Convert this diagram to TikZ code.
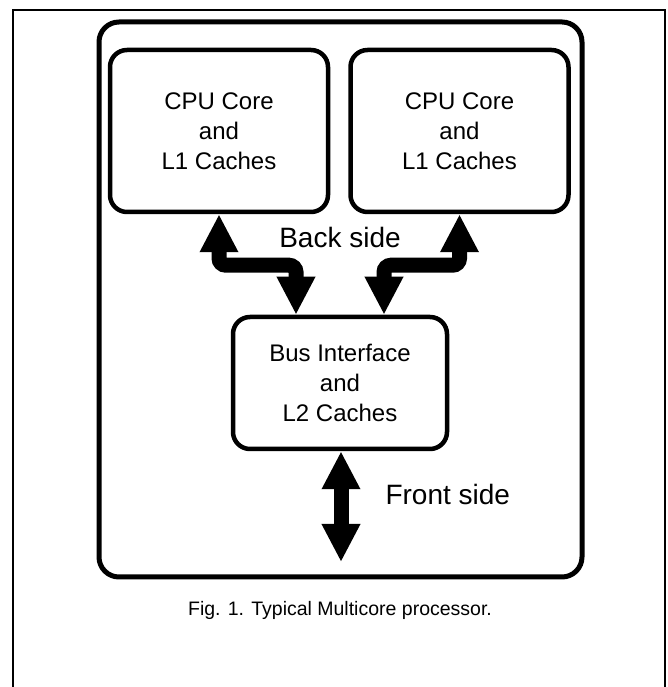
\documentclass[tikz,border=0pt]{standalone}
\usepackage{fontspec}
\setmainfont{Liberation Sans}
\usetikzlibrary{arrows.meta}
\usetikzlibrary{positioning}

\begin{document}
\begin{tikzpicture}[x=1pt, y=1pt, >=Stealth,
    unitbox/.style={draw, line width=4.5pt, rounded corners=17pt, align=center,
        inner sep=0pt, font=\fontsize{24}{30}\selectfont},
    busarrow/.style={line width=15pt, rounded corners=7pt,
        {Triangle[width=36pt,length=38pt]}-{Triangle[width=36pt,length=38pt]}},
    label/.style={font=\fontsize{28}{34}\selectfont}]
        \useasboundingbox (0,0) rectangle (668,687);

        % Draw the page frame
        \draw[line width=1.8pt] (13,0) -- (13,677) -- (665,677) -- (665,0);

        % Draw the processor package
        \node[draw, line width=5pt, rounded corners=20pt, minimum width=483pt,
            minimum height=555pt] (chip) at (340.5,387.5) {};

        % Draw the cores and the bus unit
        \node[unitbox, minimum width=218pt, minimum height=162pt] (coreA) at (219,556)
            {CPU Core\\and\\L1 Caches};
        \node[unitbox, minimum width=218pt, minimum height=162pt] (coreB) at (459.5,556)
            {CPU Core\\and\\L1 Caches};
        \node[unitbox, minimum width=214pt, minimum height=132pt] (bus) at (340,304)
            {Bus Interface\\and\\L2 Caches};

        % Draw the back side links
        \draw[busarrow] (coreA.south) -- ++(0,-51) -| ([xshift=-44pt]bus.north);
        \draw[busarrow] (coreB.south) -- ++(0,-51) -| ([xshift=44pt]bus.north);
        \node[label] (back) at (340,449) {Back side};

        % Draw the front side link
        \coordinate (frontend) at (341,125);
        \draw[busarrow] ([xshift=1pt]bus.south) -- (frontend);
        \node[label, anchor=west] (front) at (382,193) {Front side};

        % Caption
        \node[font=\fontsize{19.5}{24}\selectfont] (caption) at (340,77)
            {Fig. 1. Typical Multicore processor.};
\end{tikzpicture}
\end{document}
